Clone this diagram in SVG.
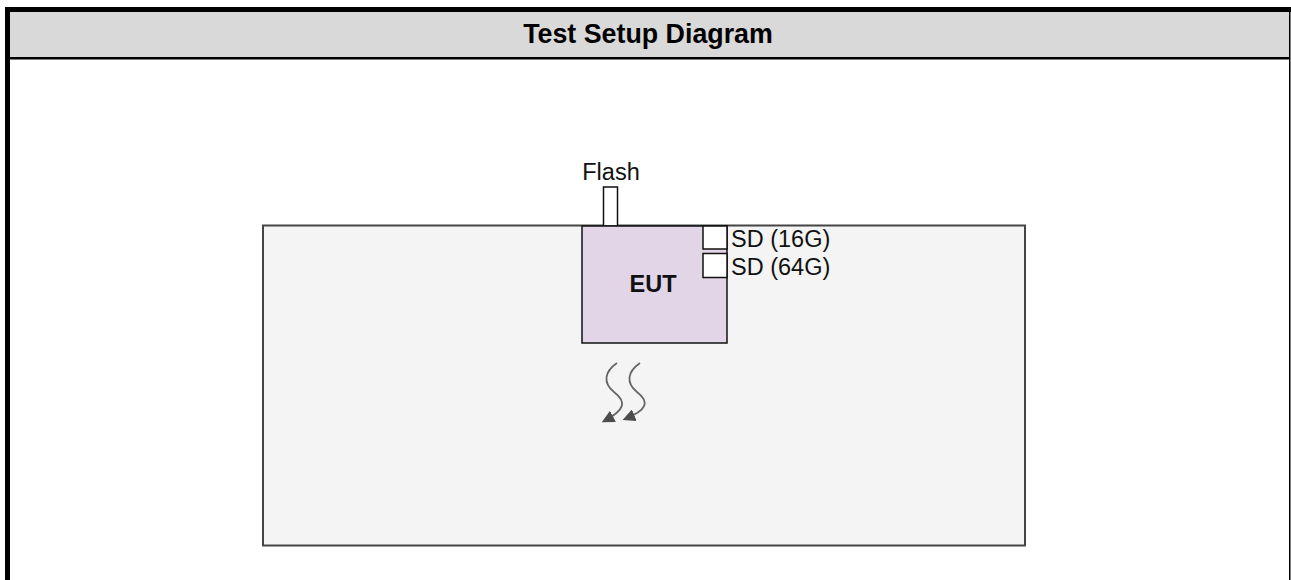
<svg xmlns="http://www.w3.org/2000/svg" width="1291" height="580" viewBox="0 0 1291 580">
<style>
.lbl{font-family:"Liberation Sans",Arial,sans-serif;font-size:23.5px;fill:#111}
.bold{font-weight:bold}
.box{stroke:#111;stroke-width:1.5}
.flow{fill:none;stroke:#666;stroke-width:1.8}
</style>
<defs>
<marker id="ah" viewBox="0 0 10 10" refX="8" refY="5" markerWidth="7" markerHeight="7" orient="auto" markerUnits="strokeWidth">
<path d="M0,0 L10,5 L0,10 Z" fill="#4d4d4d"/>
</marker>
</defs>
<rect width="1291" height="580" fill="#ffffff"/>
<g id="frame">
<rect x="10" y="12" width="1279" height="45" fill="#d9d9d9"/>
<rect x="5" y="7" width="1286" height="5" fill="#000"/>
<rect x="5" y="7" width="5" height="573" fill="#000"/>
<rect x="1289" y="7" width="1.5" height="573" fill="#000"/>
<rect x="10" y="57" width="1280" height="2.5" fill="#000"/>
<text x="648" y="43" text-anchor="middle" class="lbl bold" style="font-size:26.8px;fill:#000">Test Setup Diagram</text>
</g>
<g id="panel">
<rect x="263" y="225.5" width="762" height="320" fill="#f4f4f4" stroke="#444" stroke-width="2"/>
</g>
<g id="flash">
<rect x="603.5" y="187" width="14" height="39" fill="#fff" class="box"/>
<text x="611" y="180" text-anchor="middle" class="lbl">Flash</text>
</g>
<g id="eut">
<rect x="582" y="226" width="145" height="117" fill="#e1d5e7" class="box"/>
<text x="653" y="292" text-anchor="middle" class="lbl bold">EUT</text>
</g>
<g id="sd16">
<rect x="703" y="226" width="24" height="23" fill="#fff" class="box"/>
<text x="731" y="247" class="lbl">SD (16G)</text>
</g>
<g id="sd64">
<rect x="703" y="253.5" width="24" height="24" fill="#fff" class="box"/>
<text x="731" y="275" class="lbl">SD (64G)</text>
</g>
<g id="connectors">
<path class="flow" marker-end="url(#ah)" d="M617,363 C604,372 603,383 614,392 C627,402 625,410 604,421"/>
<path class="flow" marker-end="url(#ah)" d="M640,363 C627,372 626,383 637,392 C650,402 647,410 625,419"/>
</g>
</svg>
